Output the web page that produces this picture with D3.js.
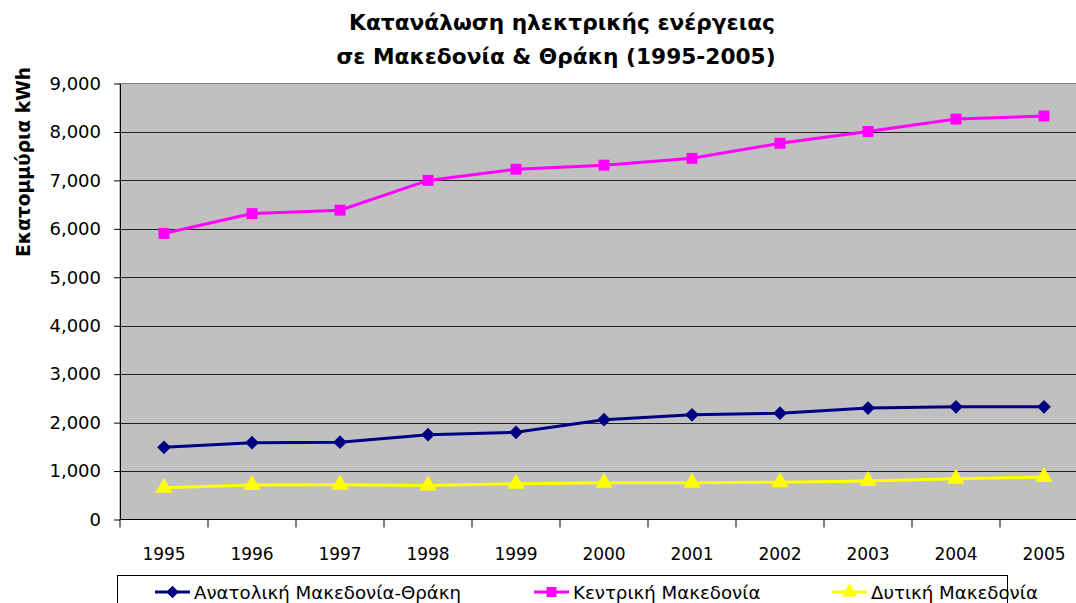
<!DOCTYPE html>
<meta charset="utf-8">
<style>
body { margin: 0; background: #fff; }
svg { display: block; font-family: "DejaVu Sans", Verdana, sans-serif; }
.grid line { stroke: #222; stroke-width: 1px; }
.axis path, .axis line { stroke: #000; }
</style>
<body>
<div id="chart"></div>
<script src="https://d3js.org/d3.v7.min.js"></script>
<script>

var years = ["1995", "1996", "1997", "1998", "1999", "2000", "2001", "2002", "2003", "2004", "2005"];
var anatoliki = [1490, 1585, 1595, 1750, 1800, 2060, 2160, 2195, 2300, 2325, 2325];
var kentriki = [5905, 6315, 6385, 7000, 7230, 7315, 7455, 7765, 8010, 8265, 8330];
var dytiki = [655, 710, 715, 700, 740, 760, 760, 770, 795, 840, 875];
var yTicks = [0, 1000, 2000, 3000, 4000, 5000, 6000, 7000, 8000, 9000];

var series = [
    { name: "Ανατολική Μακεδονία-Θράκη", values: anatoliki, color: "#000080", symbol: d3.symbolDiamond2 },
    { name: "Κεντρική Μακεδονία", values: kentriki, color: "#ff00ff", symbol: d3.symbolSquare },
    { name: "Δυτική Μακεδονία", values: dytiki, color: "#ffff00", symbol: d3.symbolTriangle }
];

var width = 1076,
    height = 603,
    margin = { left: 120, top: 83.5 },
    plotRight = 1088,
    plotBottom = 519.5;

var svg = d3.select("#chart").append("svg")
    .attr("width", width)
    .attr("height", height);

var x = d3.scaleBand()
    .domain(years)
    .range([margin.left, plotRight]);

var y = d3.scaleLinear()
    .domain([0, 9000])
    .range([plotBottom, margin.top]);

// plot background
svg.append("rect")
    .attr("x", margin.left)
    .attr("y", margin.top)
    .attr("width", plotRight - margin.left)
    .attr("height", plotBottom - margin.top)
    .style("fill", "#c0c0c0")
    .style("stroke", "#808080");

// gridlines
svg.append("g").attr("class", "grid")
    .selectAll("line")
    .data(yTicks.slice(1, -1))
    .enter().append("line")
    .attr("x1", margin.left)
    .attr("x2", plotRight)
    .attr("y1", function(d) { return Math.round(y(d)) + 0.5; })
    .attr("y2", function(d) { return Math.round(y(d)) + 0.5; });

// y axis
var yAxis = svg.append("g").attr("class", "axis")
    .attr("transform", "translate(" + margin.left + ",0)")
    .call(d3.axisLeft(y).tickValues(yTicks).tickFormat(d3.format(",")).tickSize(6).tickSizeOuter(0).tickPadding(13));
yAxis.selectAll("text")
    .style("font-family", "DejaVu Sans")
    .style("font-size", "18px")
    .style("fill", "#000");

// x axis, ticks at category boundaries
var xAxis = svg.append("g").attr("class", "axis")
    .attr("transform", "translate(0," + plotBottom + ")")
    .call(d3.axisBottom(x).tickSize(0).tickPadding(28));
xAxis.select(".domain").remove();
xAxis.selectAll("text")
    .style("font-family", "DejaVu Sans")
    .style("font-size", "17px")
    .style("fill", "#000");
xAxis.append("path")
    .attr("d", "M" + margin.left + ",0H" + plotRight)
    .style("stroke", "#000");
xAxis.selectAll("line.bound")
    .data(years.concat(["end"]))
    .enter().append("line")
    .attr("class", "bound")
    .attr("x1", function(d, i) { return margin.left + i * x.step(); })
    .attr("x2", function(d, i) { return margin.left + i * x.step(); })
    .attr("y1", 0)
    .attr("y2", 8);

// lines and markers
var line = d3.line()
    .x(function(d, i) { return x(years[i]) + x.bandwidth() / 2; })
    .y(function(d) { return y(d); });

series.forEach(function(s) {
    var g = svg.append("g");
    g.append("path")
        .datum(s.values)
        .attr("d", line)
        .style("fill", "none")
        .style("stroke", s.color)
        .style("stroke-width", 3);
    g.selectAll("path.mark")
        .data(s.values)
        .enter().append("path")
        .attr("class", "mark")
        .attr("transform", function(d, i) {
            return "translate(" + (x(years[i]) + x.bandwidth() / 2) + "," + y(d) + ")";
        })
        .attr("d", d3.symbol().type(s.symbol).size(s.symbol === d3.symbolTriangle ? 130 : 120))
        .style("fill", s.color);
});

// title
var title = svg.append("text")
    .attr("text-anchor", "middle")
    .style("font-size", "21.7px")
    .style("font-weight", "bold");
title.append("tspan").attr("x", 562).attr("y", 30).text("Κατανάλωση ηλεκτρικής ενέργειας");
title.append("tspan").attr("x", 556).attr("y", 64).text("σε Μακεδονία & Θράκη (1995-2005)");

// y axis title
svg.append("text")
    .attr("transform", "translate(30,162) rotate(-90)")
    .attr("text-anchor", "middle")
    .style("font-size", "18.7px")
    .style("font-weight", "bold")
    .text("Εκατομμύρια kWh");

// legend
var legend = svg.append("g");
legend.append("rect")
    .attr("x", 117.5)
    .attr("y", 575.5)
    .attr("width", 890)
    .attr("height", 40)
    .style("fill", "#fff")
    .style("stroke", "#000");

var legendX = [155, 534, 832];
series.forEach(function(s, i) {
    var item = legend.append("g").attr("transform", "translate(" + legendX[i] + ",592)");
    item.append("line")
        .attr("x1", 0).attr("x2", 35)
        .style("stroke", s.color)
        .style("stroke-width", 3);
    item.append("path")
        .attr("transform", "translate(17.5,0)")
        .attr("d", d3.symbol().type(s.symbol).size(100))
        .style("fill", s.color);
    item.append("text")
        .attr("x", 39)
        .attr("y", 7)
        .style("font-size", "18.2px")
        .text(s.name);
});

</script>
</body>
